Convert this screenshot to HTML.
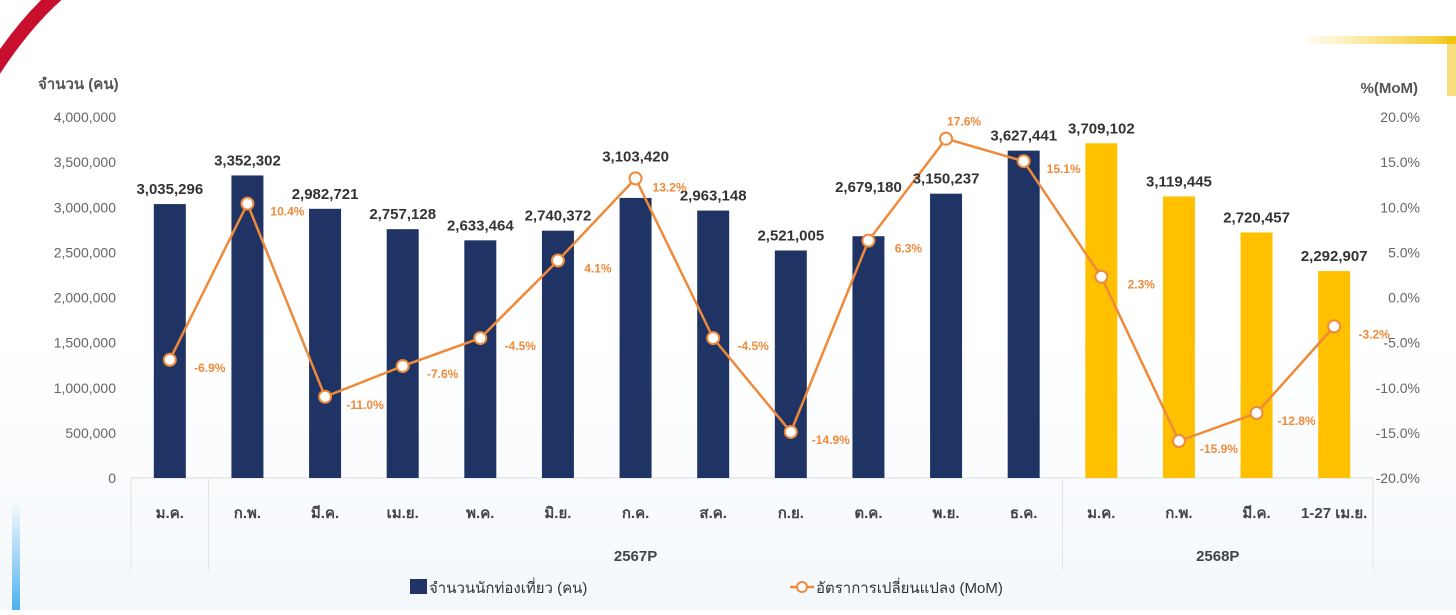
<!DOCTYPE html>
<html><head><meta charset="utf-8">
<style>
body{margin:0;width:1456px;height:610px;overflow:hidden;font-family:"Liberation Sans","DejaVu Sans",sans-serif;}
#wrap{position:relative;width:1456px;height:610px;background:linear-gradient(#ffffff 0%,#ffffff 55%,#f4f8fc 100%);}
svg text{font-family:"Liberation Sans","DejaVu Sans",sans-serif;}
</style></head>
<body>
<div id="wrap">
<svg id="chart" width="1456" height="610">
  <defs>
    <linearGradient id="yg" x1="0" x2="1" y1="0" y2="0">
      <stop offset="0" stop-color="#f5c400" stop-opacity="0"/>
      <stop offset="1" stop-color="#f0c000" stop-opacity="0.9"/>
    </linearGradient>
    <linearGradient id="bg2" x1="0" x2="0" y1="0" y2="1">
      <stop offset="0" stop-color="#4aaef0" stop-opacity="0"/>
      <stop offset="1" stop-color="#3aa8f0" stop-opacity="0.9"/>
    </linearGradient>
  </defs>
  <path d="M-30,110 Q20,20 75,-20" stroke="#c8102e" stroke-width="14" fill="none"/>
  <rect x="1300" y="36" width="156" height="8" fill="url(#yg)"/>
  <rect x="1447" y="36" width="9" height="60" fill="#f0c000" opacity="0.5"/>
  <rect x="12" y="500" width="8" height="110" fill="url(#bg2)"/>
  <text x="38" y="89" font-size="15" font-weight="bold" fill="#555">จำนวน (คน)</text>
  <text x="1418" y="93" font-size="15" font-weight="bold" fill="#555" text-anchor="end">%(MoM)</text>
  <g id="gL"></g><g id="gR"></g><g id="gX"></g><g id="gBars"></g><g id="gLine"></g><g id="gLab"></g>
  <g>
    <rect x="410" y="579" width="17" height="15" fill="#1f3464"/>
    <text x="429" y="593" font-size="15" fill="#333">จำนวนนักท่องเที่ยว (คน)</text>
    <line x1="790" y1="587" x2="814" y2="587" stroke="#ee8a3a" stroke-width="2.5"/>
    <circle cx="802" cy="587" r="5" fill="#fff" stroke="#ee8a3a" stroke-width="2"/>
    <text x="816" y="593" font-size="15" fill="#333">อัตราการเปลี่ยนแปลง (MoM)</text>
  </g>
</svg>
</div>
<script>
const months = ["ม.ค.","ก.พ.","มี.ค.","เม.ย.","พ.ค.","มิ.ย.","ก.ค.","ส.ค.","ก.ย.","ต.ค.","พ.ย.","ธ.ค.","ม.ค.","ก.พ.","มี.ค.","1-27 เม.ย."];
const tourists = [3035296,3352302,2982721,2757128,2633464,2740372,3103420,2963148,2521005,2679180,3150237,3627441,3709102,3119445,2720457,2292907];
const mom = [-6.9,10.4,-11.0,-7.6,-4.5,4.1,13.2,-4.5,-14.9,6.3,17.6,15.1,2.3,-15.9,-12.8,-3.2];
const isForecast = [0,0,0,0,0,0,0,0,0,0,0,0,1,1,1,1];
const leftTicks = [0,500000,1000000,1500000,2000000,2500000,3000000,3500000,4000000];
const rightTicks = [-20,-15,-10,-5,0,5,10,15,20];
const groups = [{label:"2567P",from:1,to:11},{label:"2568P",from:12,to:15}];

const NS="http://www.w3.org/2000/svg";
const X0=131, X1=1373, Y0=478, Y1=117;
const bw=(X1-X0)/months.length;
const xc=i=>X0+bw*(i+0.5);
const yL=v=>Y0-(v/4000000)*(Y0-Y1);
const yR=v=>Y0-((v+20)/40)*(Y0-Y1);
const fmt=n=>n.toLocaleString("en-US");
function mk(tag,attrs,parent,txt){const e=document.createElementNS(NS,tag);for(const k in attrs)e.setAttribute(k,attrs[k]);if(txt!==undefined)e.textContent=txt;document.getElementById(parent).appendChild(e);return e;}

leftTicks.forEach(v=>{
  const t=mk("text",{x:116,y:yL(v)+5,"font-size":14,fill:"#666","text-anchor":"end"},"gL",fmt(v));
  
  
});
rightTicks.forEach(v=>{
  const t=mk("text",{x:1420,y:yR(v)+5,"font-size":14,fill:"#666","text-anchor":"end"},"gR",v.toFixed(1)+"%");
  
  
});
let ax=mk("line",{x1:X0,y1:Y0,x2:X1,y2:Y0,stroke:"#ddd","stroke-width":1},"gX");


[X0,X0+bw,X0+bw*12,X1].forEach(x=>{
  const l=mk("line",{x1:x,y1:Y0,x2:x,y2:570,stroke:"#e2e2e2","stroke-width":1},"gX");
  
  
});
months.forEach((m,i)=>{
  const t=mk("text",{x:xc(i),y:518,"font-size":15,fill:"#444","font-weight":"bold","text-anchor":"middle"},"gX",m);
  
  
});
groups.forEach(g=>{
  const t=mk("text",{x:(xc(g.from)+xc(g.to))/2,y:561,"font-size":15,fill:"#444","font-weight":"bold","text-anchor":"middle"},"gX",g.label);
  
  
});
tourists.forEach((v,i)=>{
  const r=mk("rect",{x:xc(i)-16,y:yL(v),width:32,height:Y0-yL(v),fill:isForecast[i]?"#ffc000":"#1f3464"},"gBars");
  
  
  let ly=yL(v)-10;
  const py=yR(mom[i]);
  if(py<yL(v) && py>yL(v)-40) ly=py-17;
  if(i===9) ly=yL(v)-44;
  const t=mk("text",{x:xc(i),y:ly,"font-size":15,"font-weight":"bold",fill:"#333","text-anchor":"middle"},"gLab",fmt(v));
  
  
});
const pts=mom.map((v,i)=>xc(i)+","+yR(v)).join(" ");
const pl=mk("polyline",{points:pts,fill:"none",stroke:"#ee8a3a","stroke-width":2.5},"gLine");


mom.forEach((v,i)=>{
  const c=mk("circle",{cx:xc(i),cy:yR(v),r:6,fill:"#fff",stroke:"#ee8a3a","stroke-width":2},"gLine");
  
  
  const above=(i===10);
  let lx=above?xc(i)+18:xc(i)+40, lyy=above?yR(v)-13:yR(v)+12;
  if(i===6){lx=xc(i)+34; lyy=yR(v)+13;}
  const t=mk("text",{x:lx,y:lyy,"font-size":12,"font-weight":"bold",fill:"#ee8a3a","text-anchor":"middle"},"gLab",v.toFixed(1)+"%");
  
  
});
</script>
</body></html>
